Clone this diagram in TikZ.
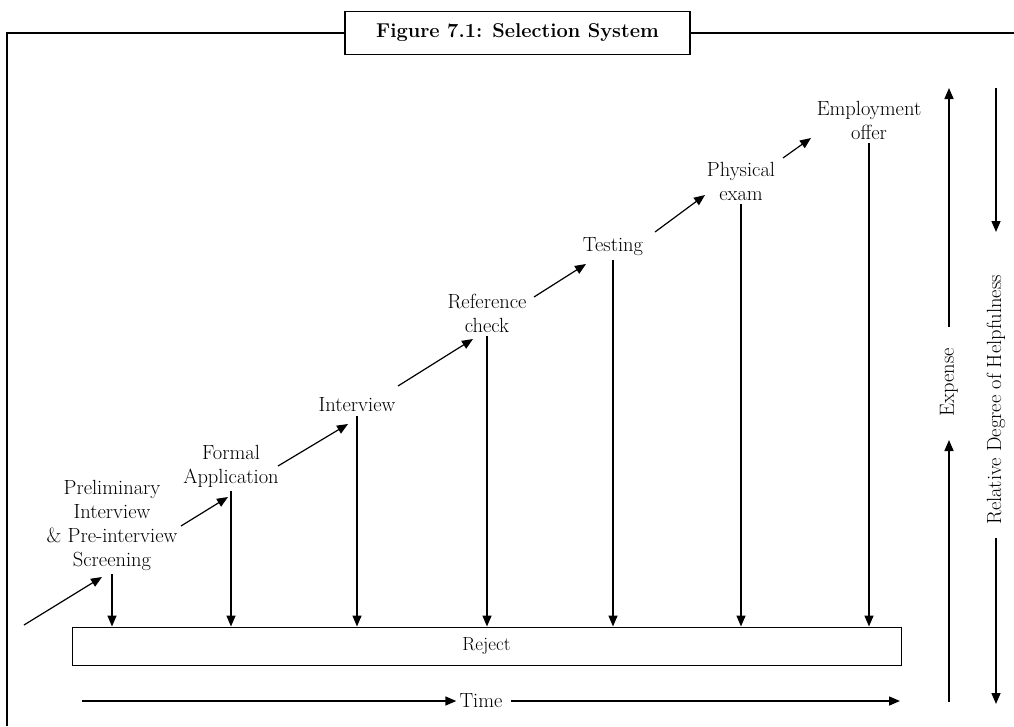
\documentclass[tikz,border=0pt]{standalone}
\usetikzlibrary{arrows.meta}
\begin{document}
\begin{tikzpicture}[x=1pt,y=-1pt,
  lbl/.style={font=\fontsize{20.5}{24}\selectfont, align=center, inner sep=0pt},
  ttl/.style={draw, line width=1.8pt, minimum width=345pt, minimum height=43pt, inner sep=0pt,
              font=\fontsize{20}{22}\selectfont\bfseries},
  frame/.style={line width=1.8pt},
  arr/.style={line width=1.5pt, -{Triangle[length=11pt,width=9pt]}},
  darr/.style={line width=1.2pt, -{Triangle[length=11pt,width=9pt]}},
  rejbox/.style={draw, line width=1pt, minimum width=829pt, minimum height=38pt, inner sep=0pt,
                 font=\fontsize{19}{22}\selectfont},
]
\useasboundingbox (0,0) rectangle (1014,726);
% title and frame
\node[ttl] (title) at (517.5,33) {Figure 7.1: Selection System};
\coordinate (fl) at (7,33);
\coordinate (fb) at (7,726);
\coordinate (fr) at (1014,33);
\draw[frame] (title.west) -- (fl) -- (fb);
\draw[frame] (title.east) -- (fr);
% reject box
\node[rejbox] (rej) at (486.5,646) {Reject};
% stage labels
\node[lbl] (pre) at (112,525) {Preliminary\\Interview\\\& Pre-interview\\Screening};
\node[lbl] (formal) at (231,466) {Formal\\Application};
\node[lbl] (interview) at (357,405) {Interview};
\node[lbl] (refc) at (487,313) {Reference\\check};
\node[lbl] (testing) at (613,247) {Testing};
\node[lbl] (physical) at (741,181) {Physical\\exam};
\node[lbl] (employ) at (869,120) {Employment\\offer};
% down arrows to reject
\foreach \n in {pre,formal,interview,refc,testing,physical,employ}{
  \draw[arr] ([yshift=-4pt]\n.south) -- (\n.south |- rej.north);
}
% diagonal arrows
\coordinate (d0a) at (24,625);  \coordinate (d0b) at (102,577);
\coordinate (d1a) at (181,526); \coordinate (d1b) at (228,497);
\coordinate (d2a) at (278,466); \coordinate (d2b) at (348,424);
\coordinate (d3a) at (398,386); \coordinate (d3b) at (473,339);
\coordinate (d4a) at (534,297); \coordinate (d4b) at (586,264);
\coordinate (d5a) at (655,232); \coordinate (d5b) at (705,195);
\coordinate (d6a) at (783,158); \coordinate (d6b) at (811,138);
\foreach \i in {0,...,6}{\draw[darr] (d\i a) -- (d\i b);}
% time axis
\node[lbl] (time) at (481,701) {Time};
\coordinate (t0) at (82,701);
\coordinate (t1) at (900,701);
\draw[arr] (t0) -- ([xshift=-3pt]time.west);
\draw[arr] ([xshift=8pt]time.east) -- (t1);
% expense
\node[lbl, rotate=90] (exp) at (949,382) {Expense};
\coordinate (e1) at (949,327); \coordinate (e2) at (949,88);
\coordinate (e3) at (949,702); \coordinate (e4) at (949,440);
\draw[arr] (e1) -- (e2);
\draw[arr] (e3) -- (e4);
% helpfulness
\node[lbl, rotate=90] (help) at (996,400) {Relative Degree of Helpfulness};
\coordinate (h1) at (996,88);  \coordinate (h2) at (996,232);
\coordinate (h3) at (996,538); \coordinate (h4) at (996,704);
\draw[arr] (h1) -- (h2);
\draw[arr] (h3) -- (h4);
\end{tikzpicture}
\end{document}
